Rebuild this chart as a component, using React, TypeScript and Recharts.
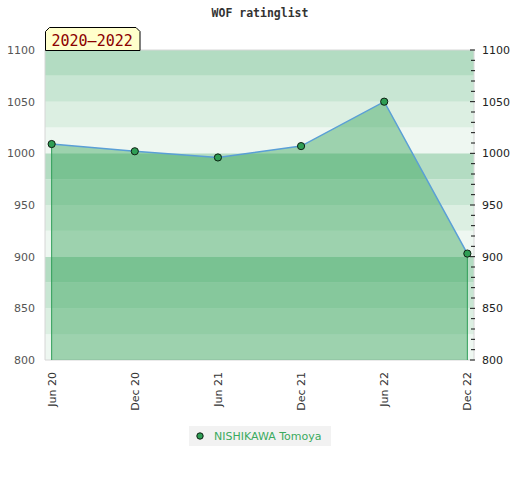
import React from 'react';
import { ComposedChart, Area, XAxis, YAxis, ReferenceArea, ReferenceLine } from 'recharts';

const periods = ['Jun 20', 'Dec 20', 'Jun 21', 'Dec 21', 'Jun 22', 'Dec 22'];
const ratings = [1009, 1002, 996, 1007, 1050, 903];

const majorTicks = [800, 850, 900, 950, 1000, 1050, 1100];
const rightTicks = [
  800, 810, 820, 830, 840, 850, 860, 870, 880, 890, 900, 910, 920, 930, 940, 950,
  960, 970, 980, 990, 1000, 1010, 1020, 1030, 1040, 1050, 1060, 1070, 1080, 1090, 1100,
];

// background stripes, 25 points each, colours repeat every 100
const bandEdges = [800, 825, 850, 875, 900, 925, 950, 975, 1000, 1025, 1050, 1075, 1100];
const bandColors = ['#eef7f1', '#dcefe2', '#c8e6d3', '#b3dcc2'];

const playerName = 'NISHIKAWA Tomoya';
const periodLabel = '2020–2022';

const data = periods.map((p, i) => ({ idx: i, period: p, rating: ratings[i] }));
const xTicks = data.map((d) => d.idx);

const XTick = ({ x, y, payload }: any) => (
  <g transform={`translate(${x},${y})`}>
    <text
      transform="rotate(-90)"
      x={-12}
      y={0}
      dy="0.35em"
      textAnchor="end"
      fontSize={11}
      fontFamily="DejaVu Sans"
      fill="#333"
    >
      {periods[payload.value]}
    </text>
  </g>
);

const RightTick = ({ x, y, payload }: any) => {
  const major = payload.value % 50 === 0;
  const axisX = x - 8;
  return (
    <g>
      <line x1={axisX - (major ? 4 : 3)} x2={axisX + 1} y1={y} y2={y} stroke="#111" strokeWidth={1} />
      {major && (
        <text x={x} y={y} dy="0.35em" textAnchor="start" fontSize={11} fontFamily="DejaVu Sans" fill="#222">
          {payload.value}
        </text>
      )}
    </g>
  );
};

const RatingDot = ({ cx, cy }: any) => (
  <circle cx={cx} cy={cy} r={3.6} fill="#2f9e55" fillOpacity={1} stroke="#0d1f12" strokeWidth={1} />
);

export default function App() {
  const first = data[0];
  const last = data[data.length - 1];
  return (
    <div style={{ position: 'absolute', left: 0, top: 0, width: 520, height: 480, background: '#fff' }}>
      <ComposedChart width={520} height={480} data={data} margin={{ top: 50, right: 0, bottom: 60, left: 0 }}>
        {bandEdges.slice(0, -1).map((lo, i) => (
          <ReferenceArea
            key={lo}
            yAxisId="left"
            y1={lo}
            y2={bandEdges[i + 1]}
            fill={bandColors[i % 4]}
            fillOpacity={1}
            stroke="none"
          />
        ))}
        <ReferenceArea yAxisId="left" y1={800} y2={1100} fill="none" stroke="#d6d6d6" strokeWidth={1} />
        <XAxis
          dataKey="idx"
          type="number"
          domain={[-0.08, 5.08]}
          ticks={xTicks}
          height={60}
          tickSize={0}
          tickMargin={0}
          axisLine={false}
          tickLine={false}
          interval={0}
          tick={<XTick />}
        />
        <YAxis
          yAxisId="left"
          orientation="left"
          domain={[800, 1100]}
          ticks={majorTicks}
          width={45}
          tickSize={0}
          tickMargin={10}
          axisLine={false}
          tickLine={false}
          interval={0}
          tick={{ fontSize: 11, fontFamily: 'DejaVu Sans', fill: '#555' }}
        />
        <YAxis
          yAxisId="right"
          orientation="right"
          type="number"
          domain={[800, 1100]}
          allowDataOverflow
          ticks={rightTicks}
          width={46}
          tickSize={0}
          tickMargin={8}
          axisLine={false}
          tickLine={false}
          interval={0}
          tick={<RightTick />}
        />
        <ReferenceLine
          yAxisId="left"
          segment={[{ x: first.idx, y: 800 }, { x: first.idx, y: first.rating }]}
          stroke="#2f9e58"
          strokeOpacity={1}
          strokeWidth={1}
        />
        <ReferenceLine
          yAxisId="left"
          segment={[{ x: last.idx, y: 800 }, { x: last.idx, y: last.rating }]}
          stroke="#2f9e58"
          strokeOpacity={1}
          strokeWidth={1}
        />
        <Area
          yAxisId="left"
          type="linear"
          dataKey="rating"
          stroke="#5a9fd6"
          strokeWidth={1.5}
          fill="#229c4a"
          fillOpacity={0.4}
          dot={<RatingDot />}
          activeDot={false}
          isAnimationActive={false}
        />
      </ComposedChart>
      <svg width={520} height={480} style={{ position: 'absolute', left: 0, top: 0, pointerEvents: 'none' }}>
        <text
          x={260}
          y={17}
          textAnchor="middle"
          fontSize={11.5}
          fontWeight="bold"
          fontFamily="DejaVu Sans Mono"
          fill="#333"
        >
          WOF ratinglist
        </text>
        <polygon
          points="45.5,50.5 45.5,31.5 49.5,27.5 136,27.5 140,31.5 140,50.5"
          fill="#ffffcc"
          stroke="#000"
          strokeWidth={1}
        />
        <text x={51.5} y={45.5} fontSize={15} fontFamily="DejaVu Sans Mono" fill="#8b0000">
          {periodLabel}
        </text>
      </svg>
      <div
        style={{
          position: 'absolute',
          left: 189,
          top: 426,
          width: 142,
          height: 20,
          background: '#f2f2f2',
          display: 'flex',
          alignItems: 'center',
          fontFamily: 'DejaVu Sans',
          fontSize: 11,
          color: '#3aaa5e',
        }}
      >
        <svg width={25} height={20} style={{ display: 'block' }}>
          <circle cx={11} cy={10} r={3.2} fill="#2f9e55" stroke="#0d1f12" strokeWidth={1} />
        </svg>
        <span>{playerName}</span>
      </div>
    </div>
  );
}
